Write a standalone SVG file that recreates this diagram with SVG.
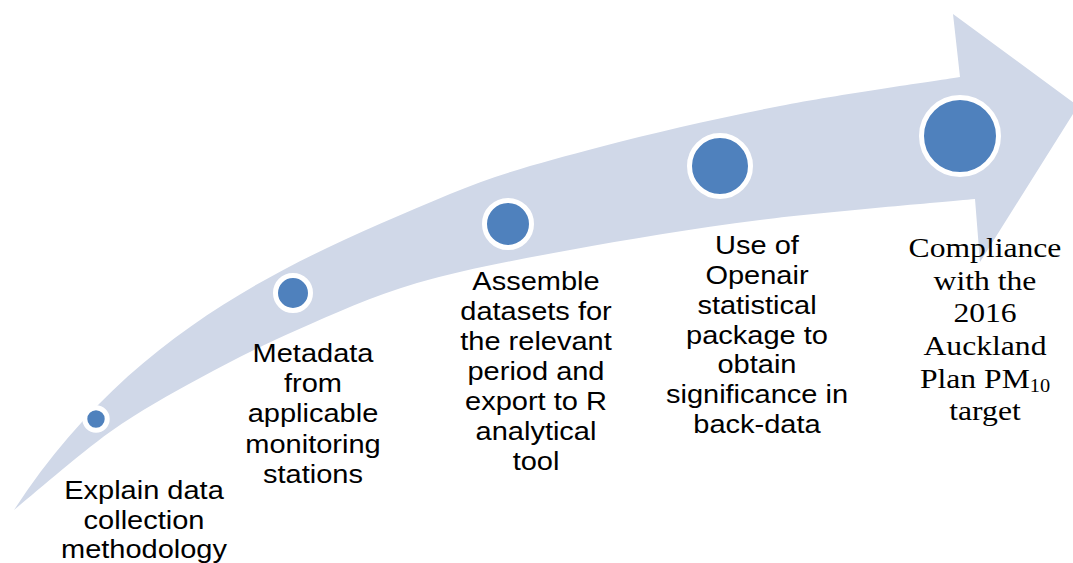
<svg xmlns="http://www.w3.org/2000/svg" width="1073" height="563" viewBox="0 0 1073 563">
<style>
.band{fill:#D0D8E8;stroke:none}
.dot{fill:#4F81BD;stroke:#FFFFFF;stroke-width:5}
.sans{font-family:"Liberation Sans",Arial,sans-serif;font-size:25px;fill:#000;text-anchor:middle}
.serif{font-family:"Liberation Serif","Times New Roman",serif;font-size:28px;fill:#000;text-anchor:middle}
</style>
<rect width="1073" height="563" fill="#FFFFFF"/>
<g id="connectors">
<path class="band" d="M14,510 C134,325 300,257 450,194 C500,173 545,161.7 600,147 C655,132.3 720,117.7 780,106 C840,94.3 930,81.8 960,77 L953,14 L1078,106 L980,262 L975,199 C939.2,202.5 827.5,211.5 760,220 C692.5,228.5 627.2,239.5 570,250 C512.8,260.5 462.5,269.7 417,283 C371.5,296.3 333.2,314.2 297,330 C260.8,345.8 231.2,361 200,378 C168.8,395 141,410 110,432 C79,454 30,497 14,510 Z"/>
</g>
<g id="node1">
<circle class="dot" cx="96" cy="419" r="11.2"/>
<text class="sans" transform="translate(144 0) scale(1.16 1)"><tspan x="0" y="499">Explain data</tspan><tspan x="0" y="529">collection</tspan><tspan x="0" y="558">methodology</tspan></text>
</g>
<g id="node2">
<circle class="dot" cx="293" cy="293" r="17.5"/>
<text class="sans" transform="translate(313 0) scale(1.16 1)"><tspan x="0" y="362">Metadata</tspan><tspan x="0" y="392">from</tspan><tspan x="0" y="422">applicable</tspan><tspan x="0" y="453">monitoring</tspan><tspan x="0" y="483">stations</tspan></text>
</g>
<g id="node3">
<circle class="dot" cx="508" cy="224" r="23.5"/>
<text class="sans" transform="translate(536 0) scale(1.16 1)"><tspan x="0" y="290">Assemble</tspan><tspan x="0" y="320">datasets for</tspan><tspan x="0" y="350">the relevant</tspan><tspan x="0" y="380">period and</tspan><tspan x="0" y="410">export to R</tspan><tspan x="0" y="440">analytical</tspan><tspan x="0" y="470">tool</tspan></text>
</g>
<g id="node4">
<circle class="dot" cx="720" cy="166" r="30.5"/>
<text class="sans" transform="translate(757 0) scale(1.16 1)"><tspan x="0" y="254">Use of</tspan><tspan x="0" y="284">Openair</tspan><tspan x="0" y="314">statistical</tspan><tspan x="0" y="344">package to</tspan><tspan x="0" y="373">obtain</tspan><tspan x="0" y="403">significance in</tspan><tspan x="0" y="433">back-data</tspan></text>
</g>
<g id="node5">
<circle class="dot" cx="960" cy="136" r="38.5"/>
<text class="serif" transform="translate(985 0) scale(1.13 1)"><tspan x="0" y="257">Compliance</tspan><tspan x="0" y="289.7">with the</tspan><tspan x="0" y="322.4">2016</tspan><tspan x="0" y="355.1">Auckland</tspan><tspan x="0" y="387.8">Plan PM<tspan font-size="18" dy="4">10</tspan></tspan><tspan x="0" y="420.5">target</tspan></text>
</g>
</svg>
